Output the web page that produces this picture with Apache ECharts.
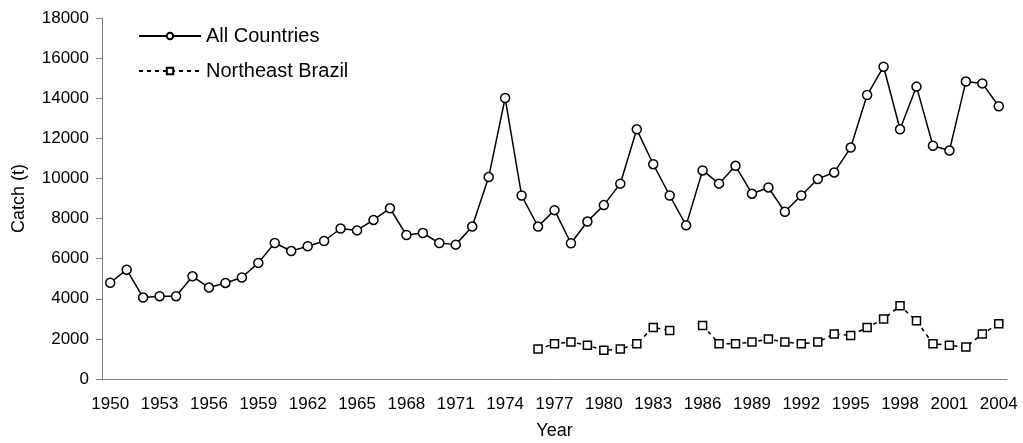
<!DOCTYPE html>
<html>
<head>
<meta charset="utf-8">
<script src="https://cdn.jsdelivr.net/npm/echarts@6/dist/echarts.min.js"></script>
<style>
  html, body { margin: 0; padding: 0; background: #fff; }
  #chart { width: 1023px; height: 443px; }
</style>
</head>
<body>
<div id="chart"></div>
<script>
// years 1950..2004
var years = [];
for (var y = 1950; y <= 2004; y++) years.push(String(y));

// catch of all countries (t)
var allCountries = [
  4800, 5450, 4060, 4130, 4130, 5120, 4560, 4790, 5060, 5790,
  6780, 6380, 6620, 6880, 7500, 7410, 7930, 8510, 7180, 7280,
  6780, 6700, 7600, 10070, 14010, 9150, 7600, 8420, 6770, 7850,
  8670, 9740, 12450, 10710, 9150, 7660, 10400, 9740, 10630, 9240,
  9550, 8340, 9150, 9970, 10300, 11540, 14160, 15570, 12450, 14580,
  11630, 11390, 14830, 14740, 13600
];

// catch of northeast brazil (t), null = no data
var northeastBrazil = [
  null, null, null, null, null, null, null, null, null, null,
  null, null, null, null, null, null, null, null, null, null,
  null, null, null, null, null, null, 1490, 1760, 1840, 1680,
  1430, 1490, 1760, 2570, 2420, null, 2670, 1760, 1760, 1840,
  1990, 1840, 1760, 1840, 2250, 2170, 2570, 2990, 3650, 2900,
  1760, 1680, 1590, 2250, 2750
];

var font = 'Liberation Sans, Arial, sans-serif';
var myChart = echarts.init(document.getElementById('chart'));

var option = {
  animation: false,
  backgroundColor: '#fff',
  grid: { left: 102, right: 16, top: 18, bottom: 64, outerBoundsMode: 'none', containLabel: false },
  legend: {
    orient: 'vertical',
    left: 133,
    top: 21,
    itemWidth: 62,
    itemHeight: 8,
    itemGap: 15,
    textStyle: { fontFamily: font, fontSize: 20, color: '#000' },
    data: ['All Countries', 'Northeast Brazil']
  },
  xAxis: {
    type: 'category',
    data: years,
    boundaryGap: true,
    name: 'Year',
    nameLocation: 'middle',
    nameGap: 43,
    nameTextStyle: { fontFamily: font, fontSize: 18, color: '#000' },
    axisLine: { lineStyle: { color: '#808080', width: 1 } },
    axisTick: { interval: 0, length: 6, lineStyle: { color: '#808080' } },
    axisLabel: { interval: 2, fontFamily: font, fontSize: 17, color: '#000', margin: 17 },
    splitLine: { show: false }
  },
  yAxis: {
    type: 'value',
    min: 0,
    max: 18000,
    interval: 2000,
    name: 'Catch (t)',
    nameLocation: 'middle',
    nameGap: 74,
    nameTextStyle: { fontFamily: font, fontSize: 18, color: '#000' },
    axisLine: { show: true, lineStyle: { color: '#808080', width: 1 } },
    axisTick: { show: true, length: 6, lineStyle: { color: '#808080' } },
    axisLabel: {
      fontFamily: font, fontSize: 17, color: '#000', margin: 13,
      formatter: function (v) { return String(v); }
    },
    splitLine: { show: false }
  },
  series: [
    {
      name: 'All Countries',
      type: 'line',
      data: allCountries,
      symbol: 'circle',
      symbolSize: 9,
      showAllSymbol: true,
      lineStyle: { color: '#000', width: 1.5 },
      itemStyle: { color: '#fff', borderColor: '#000', borderWidth: 1.5 }
    },
    {
      name: 'Northeast Brazil',
      type: 'line',
      data: northeastBrazil,
      connectNulls: false,
      symbol: 'rect',
      symbolSize: 8,
      showAllSymbol: true,
      lineStyle: { color: '#000', width: 1.5, type: [4, 4] },
      itemStyle: { color: '#fff', borderColor: '#000', borderWidth: 1.5 }
    }
  ]
};

myChart.setOption(option);
</script>
</body>
</html>
